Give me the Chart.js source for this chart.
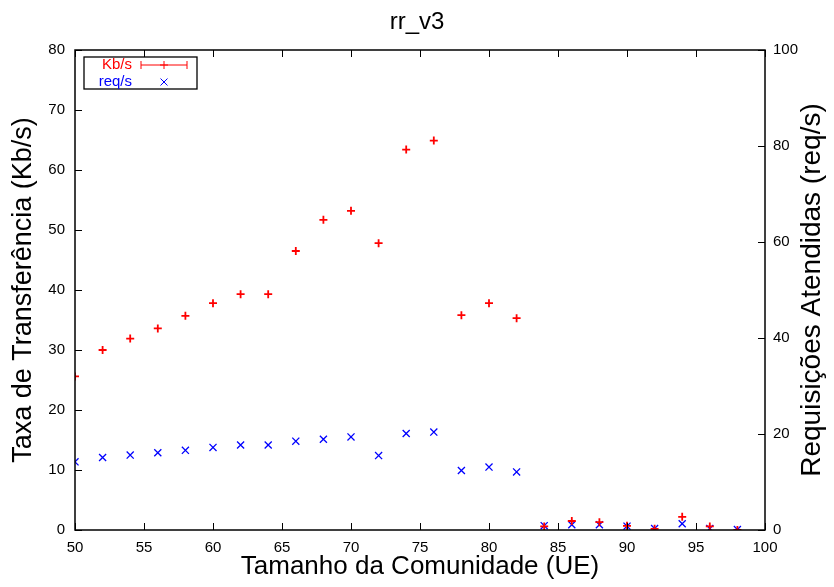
<!DOCTYPE html>
<html>
<head>
<meta charset="utf-8">
<script src="https://cdn.jsdelivr.net/npm/chart.js@4.4.0/dist/chart.umd.min.js"></script>
<style>
  html, body { margin: 0; padding: 0; background: #fff; }
  #wrap { width: 834px; height: 587px; }
</style>
</head>
<body>
<div id="wrap"><canvas id="myChart"></canvas></div>
<script>
// community size (UE)
var sizes = [50, 52, 54, 56, 58, 60, 62, 64, 66, 68, 70, 72, 74, 76, 78, 80, 82, 84, 86, 88, 90, 92, 94, 96, 98];
// transfer rate, Kb/s (left axis)
var kbps = [25.6, 30.0, 31.9, 33.6, 35.7, 37.8, 39.3, 39.3, 46.5, 51.7, 53.2, 47.8, 63.4, 64.9, 35.8, 37.8, 35.3, 0.6, 1.5, 1.3, 0.7, 0.2, 2.2, 0.6, 0.0];
// requests served, req/s (right axis)
var reqs = [14.2, 15.1, 15.6, 16.1, 16.6, 17.2, 17.7, 17.7, 18.5, 18.9, 19.4, 15.5, 20.1, 20.4, 12.4, 13.1, 12.1, 0.9, 1.1, 1.1, 0.8, 0.3, 1.3, 0.3, 0.1];

var FONT = "'Liberation Sans', Arial, sans-serif";
var rightTitle = "Requisições Atendidas (req/s)";

function pts(vals) {
    return sizes.map(function (s, i) { return { x: s, y: vals[i] }; });
}

// gnuplot-like frame with inward tick marks, plus the y2 title read bottom-to-top
var framePlugin = {
    id: "frame",
    afterDatasetsDraw: function (chart) {
        var c = chart.ctx, a = chart.chartArea, len = 7;
        c.save();
        c.strokeStyle = "#000";
        c.lineWidth = 1;
        chart.scales.x.ticks.forEach(function (t) {
            var px = Math.round(chart.scales.x.getPixelForValue(t.value)) + 0.5;
            c.beginPath();
            c.moveTo(px, a.bottom); c.lineTo(px, a.bottom - len);
            c.moveTo(px, a.top); c.lineTo(px, a.top + len);
            c.stroke();
        });
        chart.scales.y.ticks.forEach(function (t) {
            var py = Math.round(chart.scales.y.getPixelForValue(t.value)) + 0.5;
            c.beginPath();
            c.moveTo(a.left, py); c.lineTo(a.left + len, py);
            c.stroke();
        });
        chart.scales.y2.ticks.forEach(function (t) {
            var py = Math.round(chart.scales.y2.getPixelForValue(t.value)) + 0.5;
            c.beginPath();
            c.moveTo(a.right, py); c.lineTo(a.right - len, py);
            c.stroke();
        });
        c.lineWidth = 1.5;
        c.strokeRect(a.left, a.top, a.right - a.left, a.bottom - a.top);

        c.translate(812, (a.top + a.bottom) / 2);
        c.rotate(-Math.PI / 2);
        c.fillStyle = "#000";
        c.font = "28px " + FONT;
        c.textAlign = "center";
        c.textBaseline = "middle";
        c.fillText(rightTitle, 0, 0);
        c.restore();
    }
};

// key box in the top-left corner
var keyPlugin = {
    id: "key",
    afterDraw: function (chart) {
        var c = chart.ctx, a = chart.chartArea;
        var bx = a.left + 9, by = a.top + 7, bw = 113, bh = 32;
        c.save();
        c.fillStyle = "#fff";
        c.fillRect(bx, by, bw, bh);
        c.strokeStyle = "#000";
        c.lineWidth = 1.3;
        c.strokeRect(bx, by, bw, bh);
        c.font = "15px " + FONT;
        c.textAlign = "right";
        c.textBaseline = "middle";
        var ds = chart.data.datasets;
        var tx = bx + 48, sx = bx + 80, y1 = by + 8, y2 = by + 25;
        // errorbar sample
        c.fillStyle = ds[0].borderColor;
        c.fillText(ds[0].label, tx, y1);
        c.strokeStyle = ds[0].borderColor;
        c.lineWidth = 1;
        c.beginPath();
        c.moveTo(sx - 23, y1); c.lineTo(sx + 23, y1);
        c.moveTo(sx - 23, y1 - 4); c.lineTo(sx - 23, y1 + 4);
        c.moveTo(sx + 23, y1 - 4); c.lineTo(sx + 23, y1 + 4);
        c.moveTo(sx - 4, y1); c.lineTo(sx + 4, y1);
        c.moveTo(sx, y1 - 4); c.lineTo(sx, y1 + 4);
        c.stroke();
        // cross sample
        c.fillStyle = ds[1].borderColor;
        c.fillText(ds[1].label, tx, y2);
        c.strokeStyle = ds[1].borderColor;
        c.beginPath();
        c.moveTo(sx - 3.5, y2 - 3.5); c.lineTo(sx + 3.5, y2 + 3.5);
        c.moveTo(sx - 3.5, y2 + 3.5); c.lineTo(sx + 3.5, y2 - 3.5);
        c.stroke();
        c.restore();
    }
};

new Chart("myChart", {
    type: "scatter",
    data: {
        datasets: [{
            label: "Kb/s",
            data: pts(kbps),
            yAxisID: "y",
            pointStyle: "cross",
            pointRadius: 4,
            pointBorderWidth: 1.8,
            borderColor: "#ff0000",
            backgroundColor: "#ff0000"
        }, {
            label: "req/s",
            data: pts(reqs),
            yAxisID: "y2",
            pointStyle: "crossRot",
            pointRadius: 5,
            pointBorderWidth: 1.3,
            borderColor: "#0000ff",
            backgroundColor: "#0000ff"
        }]
    },
    options: {
        responsive: true,
        maintainAspectRatio: false,
        animation: false,
        layout: { padding: 0 },
        plugins: {
            legend: { display: false },
            tooltip: { enabled: false },
            title: {
                display: true,
                text: "rr_v3",
                color: "#000",
                font: { family: FONT, size: 24, weight: "normal", lineHeight: 1.2 },
                padding: { top: 7.6, bottom: 13.6 }
            }
        },
        scales: {
            x: {
                type: "linear",
                min: 50,
                max: 100,
                grid: { display: false },
                border: { display: false },
                ticks: { stepSize: 5, color: "#000", padding: 1, font: { family: FONT, size: 15 } },
                title: {
                    display: true,
                    text: "Tamanho da Comunidade (UE)",
                    color: "#000",
                    font: { family: FONT, size: 26, lineHeight: 1.2 },
                    padding: { top: 0, bottom: 5 }
                },
                afterFit: function (s) { s.height = 57; }
            },
            y: {
                position: "left",
                min: 0,
                max: 80,
                grid: { display: false },
                border: { display: false },
                ticks: { stepSize: 10, color: "#000", padding: 2, font: { family: FONT, size: 15 } },
                title: {
                    display: true,
                    text: "Taxa de Transferência (Kb/s)",
                    color: "#000",
                    font: { family: FONT, size: 27, lineHeight: 1.2 },
                    padding: { top: 7, bottom: 0 }
                },
                afterFit: function (s) { s.width = 75; }
            },
            y2: {
                position: "right",
                min: 0,
                max: 100,
                grid: { display: false },
                border: { display: false },
                ticks: { stepSize: 20, color: "#000", padding: 0, font: { family: FONT, size: 15 } },
                afterFit: function (s) { s.width = 69; }
            }
        }
    },
    plugins: [framePlugin, keyPlugin]
});
</script>
</body>
</html>
